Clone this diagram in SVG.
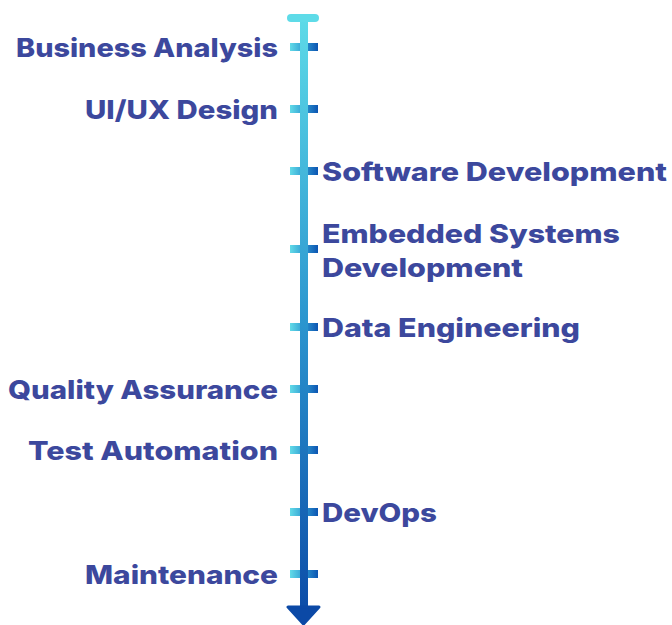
<svg xmlns="http://www.w3.org/2000/svg" width="672" height="625" viewBox="0 0 672 625">
<defs>
<linearGradient id="lineGrad" x1="0" y1="14" x2="0" y2="625" gradientUnits="userSpaceOnUse">
<stop offset="0" stop-color="#5edbe8"/>
<stop offset="0.5" stop-color="#2b96cf"/>
<stop offset="1" stop-color="#0b49a6"/>
</linearGradient>
<linearGradient id="tickGrad" x1="0" y1="0" x2="1" y2="0">
<stop offset="0" stop-color="#62dbe8"/>
<stop offset="0.5" stop-color="#2f9bd2"/>
<stop offset="1" stop-color="#0c55b2"/>
</linearGradient>
<style>
.lbl{font-family:"Inter","Open Sans","Liberation Sans",sans-serif;font-weight:800;font-size:26px;fill:#3c489d;}
.r{text-anchor:end;}
.tick{fill:url(#tickGrad);}
</style>
</defs>
<g id="connectors">
<rect class="tick" x="290" y="43" width="28" height="8"/>
<rect class="tick" x="290" y="105" width="28" height="8"/>
<rect class="tick" x="290" y="167" width="28" height="8"/>
<rect class="tick" x="290" y="245" width="28" height="8"/>
<rect class="tick" x="290" y="323" width="28" height="8"/>
<rect class="tick" x="290" y="385" width="28" height="8"/>
<rect class="tick" x="290" y="446" width="28" height="8"/>
<rect class="tick" x="290" y="508" width="28" height="8"/>
<rect class="tick" x="290" y="570" width="28" height="8"/>
<rect x="300" y="18" width="8" height="594" fill="url(#lineGrad)"/>
<rect x="287" y="14" width="32" height="8" rx="4" fill="#5edbe8"/>
<polygon points="288,607 319,607 303.5,624" fill="#0b49a6" stroke="#0b49a6" stroke-width="3" stroke-linejoin="round"/>
</g>
<g id="business-analysis"><text class="lbl r" x="278" y="57" textLength="262" lengthAdjust="spacingAndGlyphs">Business Analysis</text></g>
<g id="uiux-design"><text class="lbl r" x="278" y="119" textLength="193" lengthAdjust="spacingAndGlyphs">UI/UX Design</text></g>
<g id="software-development"><text class="lbl" x="322" y="181" textLength="345" lengthAdjust="spacingAndGlyphs">Software Development</text></g>
<g id="embedded-systems"><text class="lbl" x="322" y="243" textLength="298" lengthAdjust="spacingAndGlyphs">Embedded Systems</text><text class="lbl" x="322" y="277" textLength="201" lengthAdjust="spacingAndGlyphs">Development</text></g>
<g id="data-engineering"><text class="lbl" x="322" y="337" textLength="258" lengthAdjust="spacingAndGlyphs">Data Engineering</text></g>
<g id="quality-assurance"><text class="lbl r" x="278" y="399" textLength="270" lengthAdjust="spacingAndGlyphs">Quality Assurance</text></g>
<g id="test-automation"><text class="lbl r" x="278" y="460" textLength="250" lengthAdjust="spacingAndGlyphs">Test Automation</text></g>
<g id="devops"><text class="lbl" x="322" y="522" textLength="115" lengthAdjust="spacingAndGlyphs">DevOps</text></g>
<g id="maintenance"><text class="lbl r" x="278" y="584" textLength="193" lengthAdjust="spacingAndGlyphs">Maintenance</text></g>
</svg>
